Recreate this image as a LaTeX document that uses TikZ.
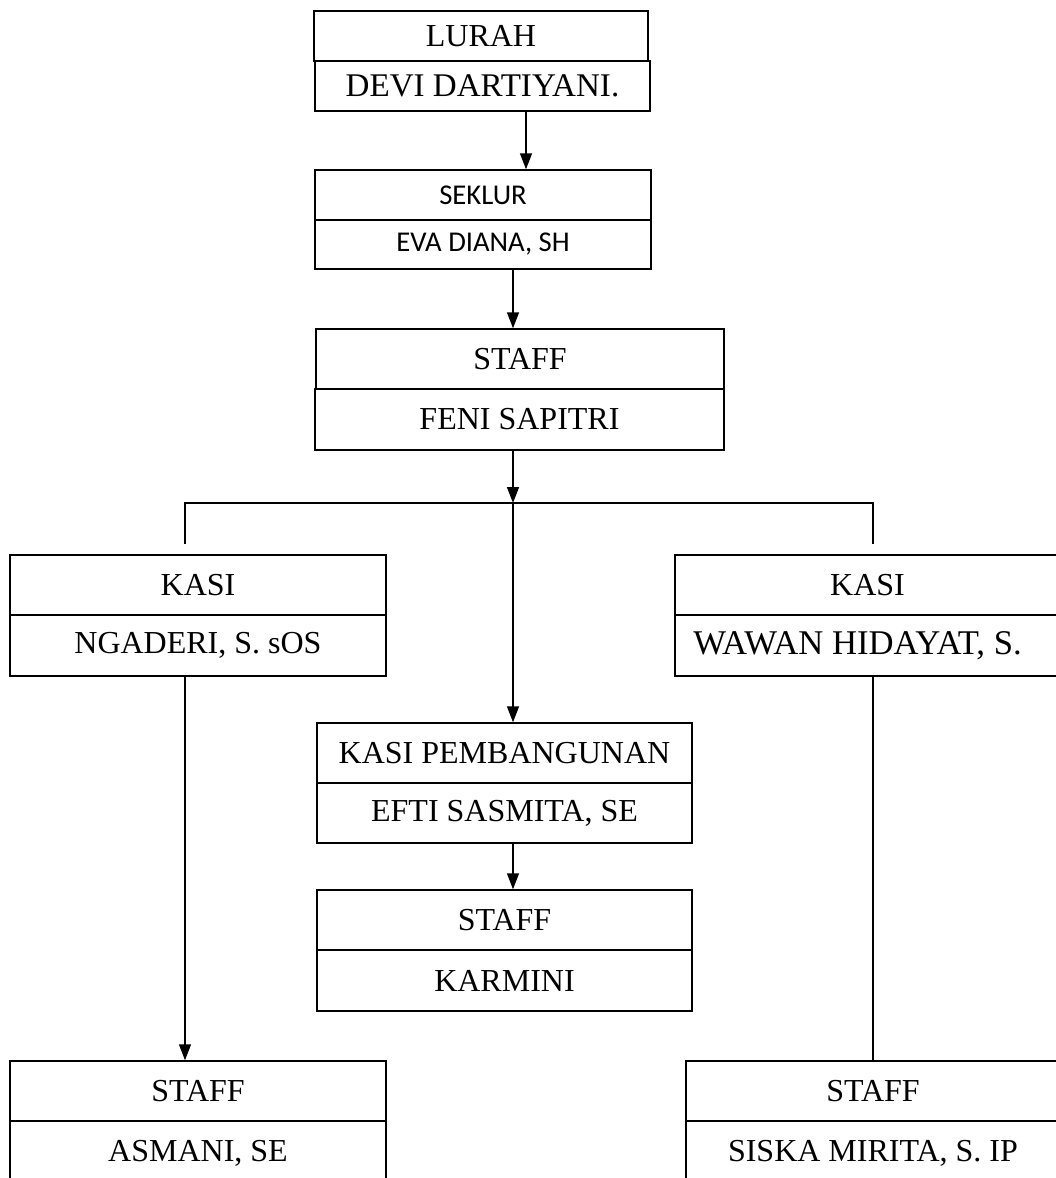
\documentclass[tikz,border=0pt]{standalone}
\usepackage{fontspec}
\setmainfont{Liberation Serif}
\newfontfamily\calfont{Carlito}
\usetikzlibrary{arrows.meta}
\begin{document}
\begin{tikzpicture}[x=0.75pt,y=-0.75pt,
  box/.style={draw,line width=1.1pt,inner sep=0pt,font=\fontsize{24}{28}\selectfont,anchor=center},
  sbox/.style={box,font=\calfont\fontsize{21.5}{25}\selectfont},
  txt/.style={inner sep=0pt,font=\fontsize{26}{30}\selectfont},
  ln/.style={line width=1.1pt},
  arr/.style={ln,-{Triangle[length=12pt,width=9pt]}}]
\useasboundingbox (0,0) rectangle (1056,1178);
% top
\node[box,minimum width=334*0.75pt,minimum height=50*0.75pt] (lurahT) at (481,36) {LURAH};
\node[box,font=\fontsize{24.8}{28}\selectfont,minimum width=335*0.75pt,minimum height=50*0.75pt] (lurahB) at (482.5,86) {DEVI DARTIYANI.};
\node[sbox,minimum width=336*0.75pt,minimum height=50*0.75pt] (sekT) at (483,195) {SEKLUR};
\node[sbox,minimum width=336*0.75pt,minimum height=49*0.75pt] (sekB) at (483,244.5) {EVA DIANA, SH};
\node[box,minimum width=408*0.75pt,minimum height=60*0.75pt] (stafT) at (520,359) {STAFF};
\node[box,minimum width=409*0.75pt,minimum height=61*0.75pt] (stafB) at (519.5,419.5) {FENI SAPITRI};
% kasi left / right
\node[box,minimum width=376*0.75pt,minimum height=60*0.75pt] (kasiLT) at (198,585) {KASI};
\node[box,minimum width=376*0.75pt,minimum height=61*0.75pt] (kasiLB) at (198,645.5) {NGADERI, S. sOS};
\node[box,minimum width=385*0.75pt,minimum height=60*0.75pt] (kasiRT) at (867.5,585) {KASI};
\node[box,minimum width=385*0.75pt,minimum height=61*0.75pt] (kasiRB) at (867.5,645.5) {};
\node[txt] (kasiRBt) at (857.5,645.5) {WAWAN HIDAYAT, S.};
% centre column
\node[box,minimum width=375*0.75pt,minimum height=60*0.75pt] (pembT) at (504.5,753) {KASI PEMBANGUNAN};
\node[box,minimum width=375*0.75pt,minimum height=60*0.75pt] (pembB) at (504.5,813) {EFTI SASMITA, SE};
\node[box,minimum width=375*0.75pt,minimum height=60*0.75pt] (karT) at (504.5,920) {STAFF};
\node[box,minimum width=375*0.75pt,minimum height=61*0.75pt] (karB) at (504.5,980.5) {KARMINI};
% bottom
\node[box,minimum width=376*0.75pt,minimum height=60*0.75pt] (asT) at (198,1091) {STAFF};
\node[box,minimum width=376*0.75pt,minimum height=64*0.75pt] (asB) at (198,1153) {ASMANI, SE};
\node[box,minimum width=374*0.75pt,minimum height=60*0.75pt] (sisT) at (873,1091) {STAFF};
\node[box,minimum width=374*0.75pt,minimum height=64*0.75pt] (sisB) at (873,1153) {SISKA MIRITA, S. IP};
% guide coordinates
\coordinate (c1) at (526,0);
\coordinate (c2) at (513,0);
\coordinate (cL) at (185,0);
\coordinate (cR) at (873,0);
\coordinate (bar) at (0,503);
\coordinate (drop) at (0,544);
% connectors
\draw[arr] (lurahB.south -| c1) -- (sekT.north -| c1);
\draw[arr] (sekB.south -| c2) -- (stafT.north -| c2);
\draw[arr] (stafB.south -| c2) -- (bar -| c2);
\draw[ln] (drop -| cL) -- (bar -| cL) -- (bar -| cR) -- (drop -| cR);
\draw[arr] (bar -| c2) -- (pembT.north -| c2);
\draw[arr] (pembB.south -| c2) -- (karT.north -| c2);
\draw[arr] (kasiLB.south -| cL) -- (asT.north -| cL);
\draw[ln] (kasiRB.south -| cR) -- (sisT.north -| cR);
\end{tikzpicture}
\end{document}
